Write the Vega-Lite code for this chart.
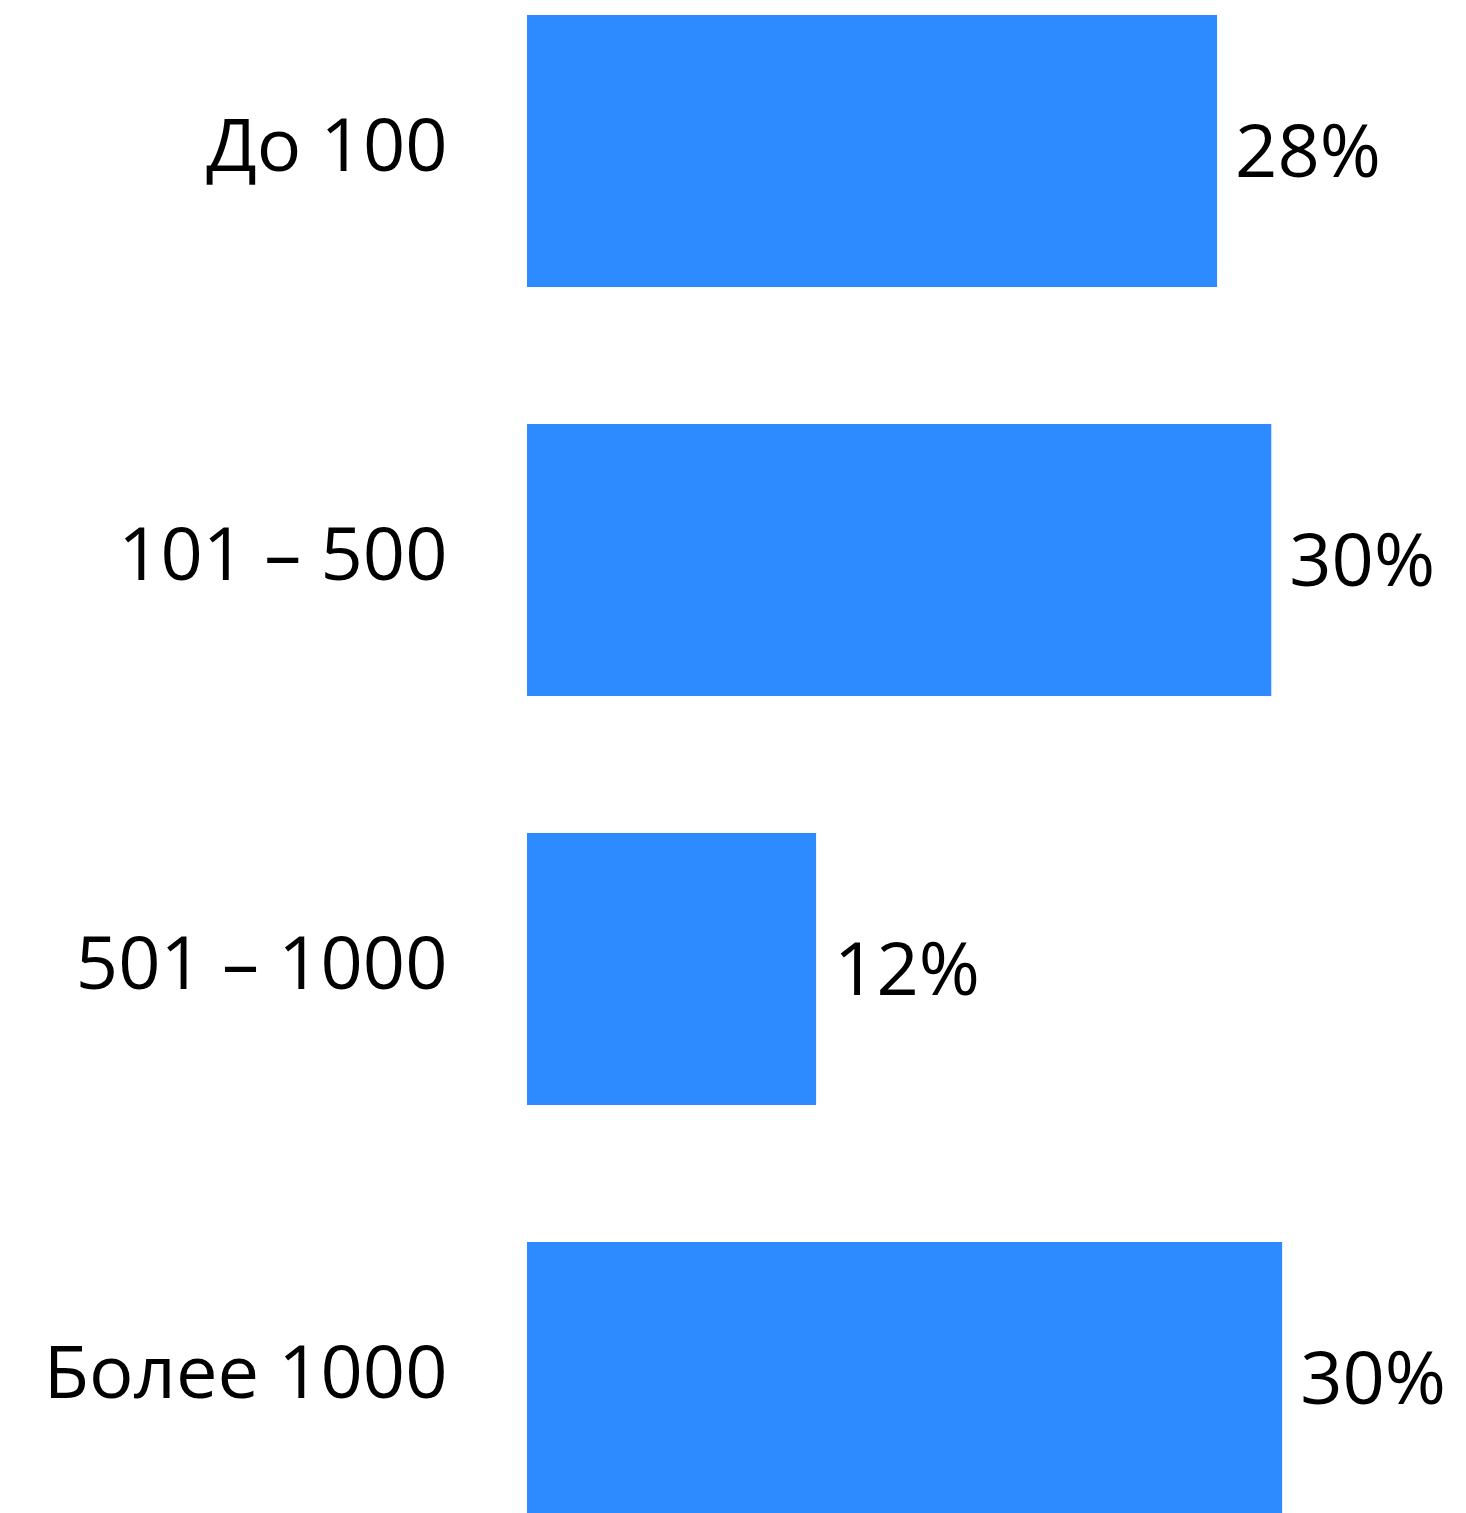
{
  "$schema": "https://vega.github.io/schema/vega-lite/v6.json",
  "autosize": "none",
  "padding": {"left": 527, "top": 15, "right": 0, "bottom": 0},
  "width": 939,
  "height": 1499,
  "background": "white",
  "config": {"view": {"stroke": null}},
  "data": {"values": [
    {"group": "До 100", "value": 28.0, "label": "28%"},
    {"group": "101 – 500", "value": 30.2, "label": "30%"},
    {"group": "501 – 1000", "value": 11.73, "label": "12%"},
    {"group": "Более 1000", "value": 30.64, "label": "30%"}
  ]},
  "encoding": {
    "y": {
      "field": "group", "type": "nominal", "sort": null,
      "scale": {"paddingInner": 0.335, "paddingOuter": 0},
      "axis": {"title": null, "ticks": false, "domain": false, "labelPadding": 80,
               "labelFont": "Open Sans", "labelFontSize": 74, "labelColor": "#000000",
               "labelLimit": 0, "labelBaseline": "middle", "labelOffset": -2}
    },
    "x": {
      "field": "value", "type": "quantitative",
      "scale": {"domain": [0, 38.1], "nice": false, "zero": true},
      "axis": null
    }
  },
  "layer": [
    {"mark": {"type": "bar", "color": "#2E8BFF"}},
    {"mark": {"type": "text", "align": "left", "baseline": "middle", "dx": 18, "dy": 4,
              "font": "Open Sans", "fontSize": 74, "color": "#000000"},
     "encoding": {"text": {"field": "label"}}}
  ]
}
